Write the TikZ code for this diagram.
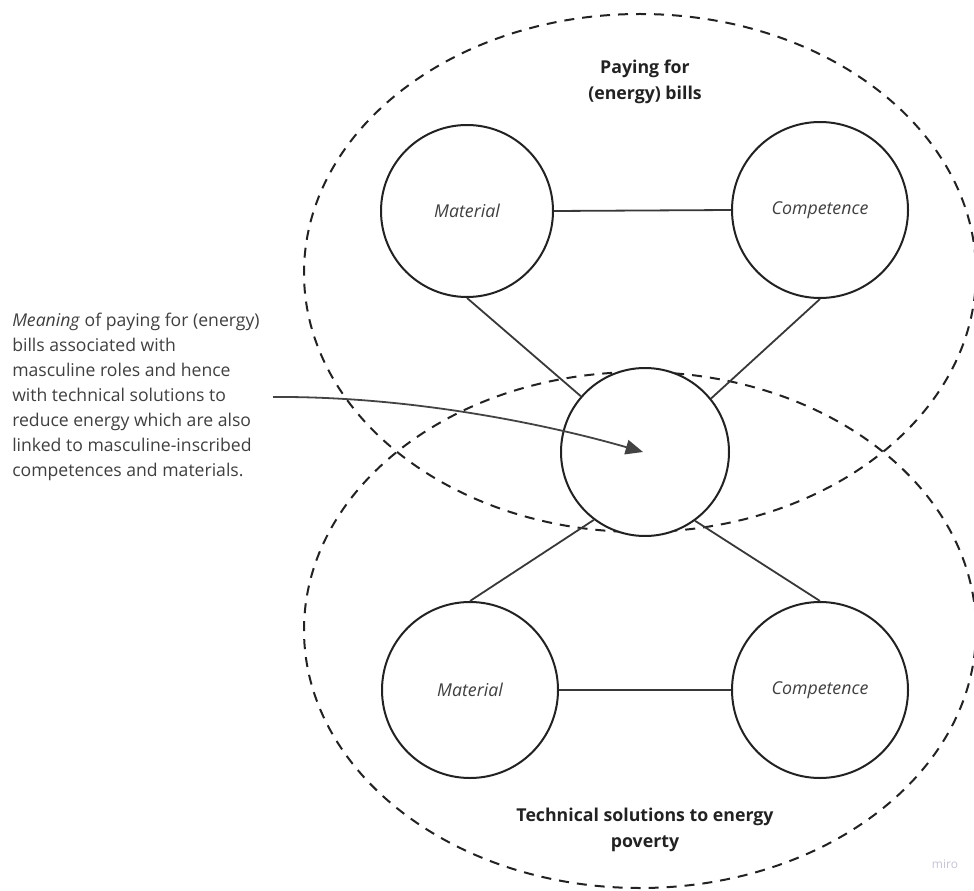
\documentclass[tikz,border=0pt]{standalone}
\usepackage{fontspec}
\setmainfont{Open Sans}
\usetikzlibrary{arrows.meta}
\definecolor{ink}{HTML}{222222}
\definecolor{txt}{HTML}{3F3F3F}
\definecolor{wm}{HTML}{C4C4D4}
\tikzset{
  ring/.style={circle,draw=ink,line width=1.5pt,minimum size=#1*1.5pt,inner sep=0pt,font=\itshape\fontsize{13.3pt}{16pt}\selectfont,text=txt},
  region/.style={draw=ink,line width=1.5pt,dash pattern=on 7.5pt off 6pt},
  link/.style={draw=ink!90,line width=1.35pt},
  title/.style={font=\bfseries\fontsize{13.3pt}{20pt}\selectfont,text=ink,align=center},
}
\begin{document}
\begin{tikzpicture}[x=0.75pt,y=-0.75pt]
\useasboundingbox (0,0) rectangle (974,891);
% regions
\draw[region] (640,273) ellipse [x radius=336, y radius=259];
\draw[region] (640,630) ellipse [x radius=336, y radius=258];
% circles
\node[ring=86] (tm) at (467,211) {Material};
\node[ring=88] (tc) at (820,210) {Competence};
\node[ring=84,fill=white] (c) at (645,452) {};
\node[ring=88] (bm) at (470,690) {Material};
\node[ring=88] (bc) at (820,690) {Competence};
% connectors
\draw[link] (tm.east) -- (tc.west);
\draw[link] (bm.east) -- (bc.west);
\draw[link] (tm.south) -- (c.139);
\draw[link] (tc.south) -- (c.39);
\draw[link] (bm.north) -- (c.233);
\draw[link] (bc.north) -- (c.306);
% titles
\node[title] (t1) at (645,82) {Paying for\\(energy) bills};
\node[title] (t2) at (645,830) {Technical solutions to energy\\poverty};
% annotation
\node[anchor=north west,align=left,text=txt,font=\fontsize{13.2pt}{18.7pt}\selectfont,inner sep=0pt] (note) at (12,313)
 {\textit{Meaning} of paying for (energy)\\bills associated with\\masculine roles and hence\\with technical solutions to\\reduce energy which are also\\linked to masculine-inscribed\\competences and materials.};
\coordinate (as) at (273,397);
\coordinate (ae) at (643,452);
\draw[draw=ink!85,line width=1.35pt,-{Triangle[length=13pt,width=11pt]}] (as) .. controls (420,396) and (560,428) .. (ae);
% watermark
\node[text=wm,font=\fontsize{9pt}{10pt}\selectfont] (miro) at (945,864) {miro};
\end{tikzpicture}
\end{document}
